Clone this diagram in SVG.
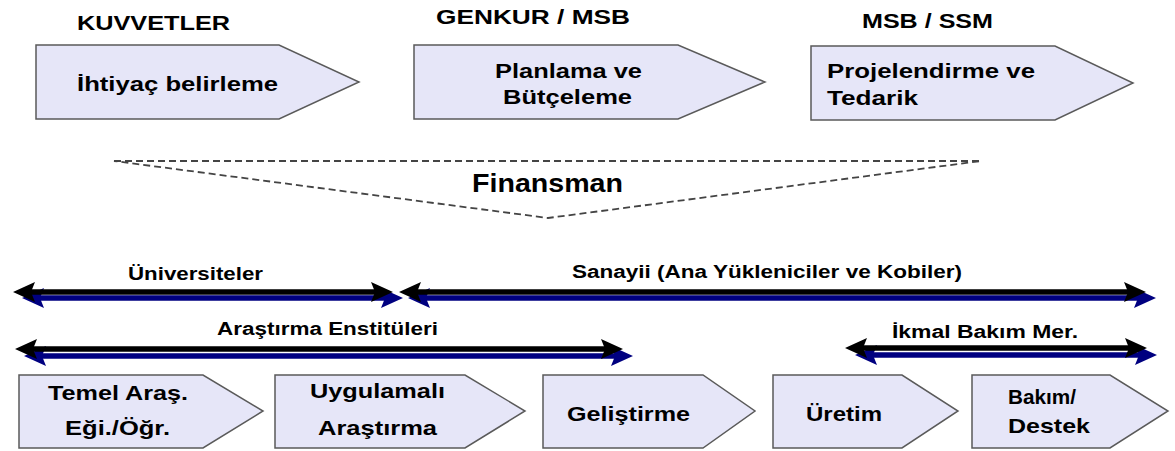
<svg xmlns="http://www.w3.org/2000/svg" width="1175" height="451" viewBox="0 0 1175 451">
<style>
  .node { fill: #E6E6F8; stroke: #5a5a5a; stroke-width: 1.5; }
  text { font-family: "Liberation Sans", Arial, sans-serif; font-weight: bold; fill: #000; }
  .lbl { font-size: 21px; }
  .nt { font-size: 21px; }
  .al { font-size: 18px; }
  .blk { stroke: #000; stroke-width: 5.5; fill: none; marker-start: url(#hb); marker-end: url(#hb); }
  .blu { stroke: #000080; stroke-width: 5.5; fill: none; marker-start: url(#hn); marker-end: url(#hn); }
</style>
<defs>
  <marker id="hb" viewBox="0 0 22 22" refX="13" refY="11" markerWidth="22" markerHeight="22" markerUnits="userSpaceOnUse" orient="auto-start-reverse">
    <path d="M0,1 L22,11 L0,21 L4,11 Z" fill="#000"/>
  </marker>
  <marker id="hn" viewBox="0 0 22 22" refX="13" refY="11" markerWidth="22" markerHeight="22" markerUnits="userSpaceOnUse" orient="auto-start-reverse">
    <path d="M0,1 L22,11 L0,21 L4,11 Z" fill="#000080"/>
  </marker>
</defs>
<rect width="1175" height="451" fill="#fff"/>

<g id="kuvvetler">
  <text class="lbl" x="77" y="30" textLength="153" lengthAdjust="spacingAndGlyphs">KUVVETLER</text>
  <path class="node" d="M36,45 H279 L359,82 L279,119 H36 Z"/>
  <text class="nt" x="77" y="91" textLength="201" lengthAdjust="spacingAndGlyphs">İhtiyaç belirleme</text>
</g>
<g id="genkur">
  <text class="lbl" x="436" y="24" textLength="194" lengthAdjust="spacingAndGlyphs">GENKUR / MSB</text>
  <path class="node" d="M414,45 H678 L765,82 L678,119 H414 Z"/>
  <text class="nt" x="495" y="78" textLength="147" lengthAdjust="spacingAndGlyphs">Planlama ve</text>
  <text class="nt" x="503" y="104" textLength="129" lengthAdjust="spacingAndGlyphs">Bütçeleme</text>
</g>
<g id="msb-ssm">
  <text class="lbl" x="862" y="28" textLength="131" lengthAdjust="spacingAndGlyphs">MSB / SSM</text>
  <path class="node" d="M811,46 H1055 L1133,83 L1055,120 H811 Z"/>
  <text class="nt" x="827" y="78" textLength="208" lengthAdjust="spacingAndGlyphs">Projelendirme ve</text>
  <text class="nt" x="827" y="105" textLength="91" lengthAdjust="spacingAndGlyphs">Tedarik</text>
</g>

<g id="finansman">
  <path d="M114,161 L981,161 L548,218 Z" fill="none" stroke="#444" stroke-width="1.8" stroke-dasharray="7,4"/>
  <text x="472" y="192" font-size="25" textLength="151" lengthAdjust="spacingAndGlyphs">Finansman</text>
</g>

<g id="connectors">
  <line class="blu" x1="31" y1="298" x2="394" y2="298"/>
  <line class="blk" x1="22" y1="292" x2="384" y2="292"/>
  <line class="blu" x1="417" y1="298" x2="1147" y2="298"/>
  <line class="blk" x1="408" y1="292" x2="1137" y2="292"/>
  <line class="blu" x1="33" y1="356" x2="624" y2="356"/>
  <line class="blk" x1="24" y1="349" x2="614" y2="349"/>
  <line class="blu" x1="864" y1="355" x2="1148" y2="355"/>
  <line class="blk" x1="854" y1="348" x2="1138" y2="348"/>
</g>

<g id="arrow-labels">
  <text class="al" x="128" y="280" textLength="135" lengthAdjust="spacingAndGlyphs">Üniversiteler</text>
  <text class="al" x="572" y="278" textLength="390" lengthAdjust="spacingAndGlyphs">Sanayii (Ana Yükleniciler ve Kobiler)</text>
  <text class="al" x="217" y="335" textLength="221" lengthAdjust="spacingAndGlyphs">Araştırma Enstitüleri</text>
  <text class="al" x="892" y="338" textLength="186" lengthAdjust="spacingAndGlyphs">İkmal Bakım Mer.</text>
</g>

<g id="temel">
  <path class="node" d="M19,375 H203 L263,411 L203,448 H19 Z"/>
  <text class="nt" x="48" y="400" textLength="140" lengthAdjust="spacingAndGlyphs">Temel Araş.</text>
  <text class="nt" x="65" y="435" textLength="105" lengthAdjust="spacingAndGlyphs">Eği./Öğr.</text>
</g>
<g id="uygulamali">
  <path class="node" d="M275,375 H465 L525,411 L465,448 H275 Z"/>
  <text class="nt" x="310" y="398" textLength="135" lengthAdjust="spacingAndGlyphs">Uygulamalı</text>
  <text class="nt" x="318" y="435" textLength="119" lengthAdjust="spacingAndGlyphs">Araştırma</text>
</g>
<g id="gelistirme">
  <path class="node" d="M543,375 H703 L755,411 L703,448 H543 Z"/>
  <text class="nt" x="567" y="421" textLength="123" lengthAdjust="spacingAndGlyphs">Geliştirme</text>
</g>
<g id="uretim">
  <path class="node" d="M773,375 H902 L958,411 L902,448 H773 Z"/>
  <text class="nt" x="806" y="421" textLength="76" lengthAdjust="spacingAndGlyphs">Üretim</text>
</g>
<g id="bakim">
  <path class="node" d="M972,375 H1110 L1168,411 L1110,448 H972 Z"/>
  <text class="nt" x="1008" y="404" textLength="68" lengthAdjust="spacingAndGlyphs">Bakım/</text>
  <text class="nt" x="1008" y="433" textLength="82" lengthAdjust="spacingAndGlyphs">Destek</text>
</g>
</svg>
